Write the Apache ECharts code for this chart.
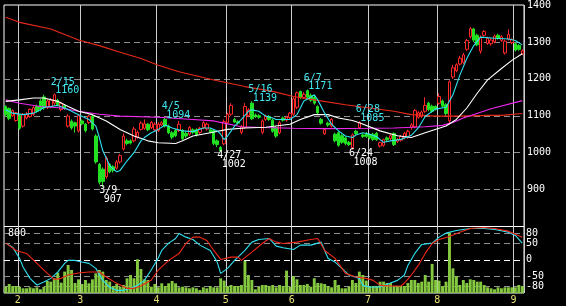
<!DOCTYPE html>
<html><head><meta charset="utf-8">
<script src="https://cdn.jsdelivr.net/npm/echarts@6/dist/echarts.min.js"></script>
<style>html,body{margin:0;padding:0;background:#000;}#c{width:566px;height:306px;}</style>
</head><body><div id="c"></div>
<script>
const dates = ['1/26','1/27','1/28','1/29',
'2/1','2/2','2/3','2/4','2/5','2/8','2/9','2/10','2/11','2/12','2/15','2/16','2/17','2/18','2/19','2/22','2/23','2/24',
'3/1','3/2','3/3','3/4','3/7','3/8','3/9','3/10','3/11','3/14','3/15','3/16','3/17','3/18','3/22','3/23','3/24','3/25','3/28','3/29','3/30','3/31',
'4/1','4/4','4/5','4/6','4/7','4/8','4/11','4/12','4/13','4/14','4/15','4/18','4/19','4/20','4/21','4/22','4/25','4/26','4/27','4/28',
'5/2','5/6','5/9','5/10','5/11','5/12','5/13','5/16','5/17','5/18','5/19','5/20','5/23','5/24','5/25','5/26','5/27','5/30','5/31',
'6/1','6/2','6/3','6/6','6/7','6/8','6/9','6/10','6/13','6/14','6/15','6/16','6/17','6/20','6/21','6/22','6/23','6/24','6/27','6/28','6/29','6/30',
'7/1','7/4','7/5','7/6','7/7','7/8','7/11','7/12','7/13','7/14','7/15','7/19','7/20','7/21','7/22','7/25','7/26','7/27','7/28','7/29',
'8/1','8/2','8/3','8/4','8/5','8/8','8/9','8/10','8/12','8/15','8/16','8/17','8/18','8/19','8/22','8/23','8/24','8/25','8/26','8/29','8/30','8/31',
'9/1','9/2','9/5'];

// [open, close, low, high]
const ohlc = [
[1125,1103,1098,1128],[1120,1093,1088,1122],[1100,1114,1097,1117],[1087,1108,1084,1110],[1100,1066,1062,1104],
[1072,1104,1068,1107],[1094,1104,1090,1110],[1098,1117,1095,1120],[1104,1122,1100,1126],[1125,1112,1108,1130],
[1140,1118,1112,1145],[1151,1121,1116,1157],[1122,1140,1118,1145],[1125,1143,1120,1148],[1134,1157,1128,1160],
[1142,1130,1126,1146],[1117,1134,1112,1138],[1127,1120,1116,1130],[1072,1099,1068,1104],[1085,1067,1062,1090],
[1081,1072,1054,1084],[1059,1100,1055,1104],[1086,1078,1074,1090],[1077,1060,1055,1080],[1082,1099,1078,1102],
[1099,1064,1060,1102],[1045,975,970,1050],[968,920,914,972],[955,922,907,960],[935,985,930,990],
[968,948,944,972],[962,952,946,966],[958,975,954,980],[975,992,970,996],[1010,1045,1006,1052],
[1032,1025,1020,1038],[1032,1026,1022,1036],[1032,1064,1028,1070],[1042,1055,1038,1060],[1063,1080,1060,1085],
[1066,1078,1062,1090],[1077,1062,1058,1080],[1068,1082,1064,1086],[1062,1077,1058,1082],[1060,1077,1056,1082],
[1075,1081,1072,1085],[1090,1072,1068,1094],[1072,1054,1050,1076],[1054,1042,1036,1058],[1060,1046,1042,1064],
[1060,1077,1056,1086],[1060,1038,1034,1064],[1052,1045,1040,1058],[1050,1068,1046,1072],[1062,1055,1050,1066],
[1062,1048,1044,1066],[1055,1066,1050,1070],[1068,1081,1064,1085],[1064,1077,1060,1082],[1062,1055,1052,1066],
[1060,1025,1020,1064],[1032,1022,1015,1036],[1014,1005,1002,1018],[1024,1084,1020,1090],[1081,1104,1078,1108],
[1104,1128,1100,1134],[1090,1083,1080,1094],[1084,1080,1076,1088],[1055,1070,1050,1075],[1068,1125,1064,1134],
[1100,1116,1096,1120],[1134,1092,1088,1139],[1102,1099,1094,1106],[1100,1096,1092,1104],[1055,1086,1050,1090],
[1090,1099,1086,1103],[1098,1090,1086,1102],[1088,1058,1054,1092],[1068,1045,1040,1072],[1054,1081,1050,1086],
[1094,1088,1084,1098],[1088,1096,1084,1100],[1095,1107,1092,1110],[1104,1146,1100,1150],[1123,1162,1118,1166],
[1166,1150,1145,1168],[1150,1158,1146,1164],[1168,1150,1146,1171],[1155,1142,1138,1160],[1150,1134,1130,1154],
[1125,1108,1104,1128],[1090,1080,1076,1094],[1051,1063,1048,1067],[1080,1075,1070,1084],[1072,1090,1068,1094],
[1050,1032,1028,1054],[1054,1020,1016,1058],[1046,1028,1024,1050],[1040,1025,1020,1044],[1028,1022,1018,1032],
[1014,1048,1008,1052],[1058,1052,1048,1062],[1068,1082,1064,1085],[1048,1044,1040,1052],[1052,1044,1040,1056],
[1048,1040,1036,1052],[1050,1036,1032,1054],[1052,1035,1032,1056],[1018,1027,1014,1030],[1020,1035,1016,1038],
[1040,1035,1030,1044],[1038,1046,1034,1050],[1052,1022,1018,1055],[1030,1036,1026,1040],[1034,1044,1030,1048],
[1040,1052,1036,1056],[1042,1058,1038,1062],[1068,1075,1062,1080],[1070,1114,1066,1118],[1096,1108,1092,1112],
[1098,1110,1094,1114],[1112,1128,1108,1150],[1134,1117,1112,1138],[1126,1112,1108,1130],[1125,1118,1114,1128],
[1134,1152,1130,1161],[1140,1126,1122,1144],[1130,1106,1100,1134],[1086,1192,1076,1196],[1205,1230,1200,1238],
[1222,1238,1218,1242],[1240,1256,1236,1262],[1245,1265,1240,1270],[1280,1304,1276,1308],[1314,1336,1310,1340],
[1335,1305,1300,1338],[1318,1292,1288,1322],[1275,1313,1268,1318],[1318,1328,1314,1332],[1296,1310,1292,1314],
[1295,1305,1290,1310],[1300,1316,1296,1320],[1318,1310,1306,1322],[1304,1314,1300,1318],[1270,1302,1266,1306],
[1308,1320,1304,1334],[1298,1306,1294,1310],[1295,1278,1274,1298],[1290,1280,1276,1294],[1268,1276,1264,1280]];

const volume = [84,121,94,94,84,63,63,76,63,76, 50,84,161,152,197,272,138,286,375,308,
134,183,121,174,130,183,264,308,286,174, 152,94,121,84,107,197,241,197,451,321,
183,174,84,121,76,130,94,130,161,130, 76,84,76,63,76,63,40,76,63,94,
76,76,197,166,94,107,94,94,107,429, 241,174,50,84,107,107,94,107,76,107,
94,299,84,228,183,107,107,121,84,197, 134,130,121,94,76,174,107,63,63,84,
174,134,286,241,166,94,94,94,152,152, 134,134,94,94,94,94,134,174,174,134,
152,241,152,389,174,166,94,152,808,330, 228,107,174,134,183,174,152,152,107,76,
63,50,76,63,76,76,76,76,107,94];

// moving averages read at [day index, value]
const maShort = [[0,1116],[2,1107],[5,1103],[8,1107],[10,1116],[11,1123],[13,1125],[15,1128],[17,1121],[19,1112],[21,1103],[24,1090],[26,1072],[27,1041],[28,1005],[30,965],[31,956],[32,948],[33,952],[35,978],[37,1000],[39,1032],[40,1041],[42,1054],[44,1063],[46,1075],[48,1067],[51,1059],[54,1057],[57,1067],[59,1067],[61,1059],[62,1050],[63,1035],[64,1045],[66,1072],[68,1090],[70,1112],[71,1116],[73,1112],[75,1099],[77,1094],[78,1090],[80,1090],[82,1090],[84,1103],[85,1121],[86,1140],[88,1150],[89,1157],[90,1143],[92,1107],[94,1077],[96,1059],[98,1045],[100,1041],[101,1048],[103,1054],[105,1050],[107,1043],[109,1028],[111,1032],[114,1036],[117,1047],[119,1067],[121,1098],[123,1112],[124,1118],[127,1123],[129,1157],[131,1210],[133,1255],[135,1290],[137,1313],[141,1310],[145,1308],[147,1304],[149,1292]];
const maMid = [[0,1139],[4,1143],[8,1148],[11,1148],[15,1139],[18,1125],[21,1112],[25,1103],[29,1086],[33,1063],[37,1045],[41,1032],[44,1027],[49,1025],[51,1032],[54,1045],[59,1054],[64,1063],[69,1067],[75,1069],[82,1077],[85,1090],[89,1103],[93,1103],[96,1094],[100,1087],[102,1081],[108,1059],[113,1046],[117,1041],[121,1054],[127,1072],[130,1090],[133,1121],[136,1161],[139,1197],[143,1228],[146,1250],[149,1268]];
const maLong = [[0,1143],[4,1134],[10,1125],[16,1121],[21,1112],[27,1104],[33,1099],[44,1096],[54,1090],[60,1086],[63,1080],[68,1070],[74,1068],[83,1066],[93,1065],[105,1066],[112,1067],[121,1070],[126,1074],[129,1082],[132,1094],[140,1119],[149,1141]];
const maVeryLong = [[0,1367],[4,1353],[13,1335],[21,1305],[27,1290],[33,1272],[39,1255],[44,1237],[50,1219],[60,1197],[69,1179],[77,1166],[83,1152],[89,1143],[98,1130],[105,1121],[112,1112],[117,1103],[124,1099],[131,1099],[139,1101],[143,1101],[149,1106]];

const rciShort = [[0,50],[2,38],[4,4],[5,-22],[7,-56],[9,-76],[11,-67],[13,-56],[15,-37],[17,-11],[18,-2],[20,-2],[22,-7],[24,-11],[26,-26],[28,-62],[30,-83],[32,-92],[34,-92],[36,-86],[38,-77],[40,-62],[42,-30],[44,5],[45,28],[47,50],[49,64],[50,79],[52,68],[54,61],[56,44],[59,28],[61,-7],[62,-41],[64,-26],[66,-2],[67,8],[69,28],[71,53],[73,61],[76,64],[78,41],[80,36],[83,31],[85,44],[88,44],[91,53],[92,28],[93,4],[95,-7],[97,-26],[99,-46],[102,-56],[103,-77],[105,-82],[108,-82],[111,-70],[113,-62],[115,-46],[116,-17],[118,19],[120,46],[123,50],[125,68],[127,80],[130,88],[134,94],[138,94],[141,91],[145,83],[147,73],[149,50]];
const rciLong = [[0,50],[3,28],[6,19],[9,-11],[12,-41],[14,-59],[16,-56],[18,-46],[21,-40],[24,-37],[27,-37],[29,-52],[32,-71],[35,-86],[37,-86],[39,-79],[42,-61],[44,-31],[47,-2],[50,19],[52,49],[54,68],[56,68],[58,58],[60,28],[62,1],[65,8],[67,8],[68,-2],[71,23],[74,49],[76,64],[78,53],[80,49],[84,53],[88,61],[90,64],[92,28],[95,4],[98,-41],[101,-52],[104,-56],[106,-62],[108,-77],[111,-79],[114,-79],[115,-70],[117,-46],[119,-17],[121,19],[123,49],[125,61],[128,70],[131,83],[134,94],[138,97],[141,94],[145,86],[149,68]];

const priceTicks = [900,1000,1100,1200,1300,1400];
const rciTicks = [80,50,0,-50,-80];
const volumeTicks = [800];

const annotations = [
  {d:'2/15', v:1160, hi:true}, {d:'3/9', v:907, hi:false}, {d:'4/5', v:1094, hi:true},
  {d:'4/27', v:1002, hi:false}, {d:'5/16', v:1139, hi:true}, {d:'6/7', v:1171, hi:true},
  {d:'6/24', v:1008, hi:false}, {d:'6/28', v:1085, hi:true}
];

const FONT = 'DejaVu Sans Mono';
const month = s => s.split('/')[0];
const monthStart = (idx, val) => idx > 0 && month(val) !== month(dates[idx - 1]);
const GRID_V = '#cccccc';
const DASH = '#8e8e8e';

const priceSplitColors = [];
for (let v = 800; v <= 1400; v += 100) priceSplitColors.push(v > 800 && v < 1400 ? DASH : 'rgba(0,0,0,0)');
const rciSplitColors = [];
for (let v = -100; v <= 100; v += 10) rciSplitColors.push(v === 0 ? '#ffffff' : (rciTicks.includes(v) ? DASH : 'rgba(0,0,0,0)'));

const markData = [];
annotations.forEach(a => {
  const col = a.hi ? '#40e6f0' : '#ffffff';
  const base = {fontFamily: FONT, fontSize: 10, color: col, align: 'left', verticalAlign: 'middle'};
  markData.push({coord: [a.d, a.v], label: Object.assign({show: true, formatter: a.d, position: [-3, a.hi ? -11 : 4]}, base)});
  markData.push({coord: [a.d, a.v], label: Object.assign({show: true, formatter: String(a.v), position: [1.5, a.hi ? -2.5 : 13]}, base)});
});

const lineSeries = (data, color, xi, yi) => ({
  type: 'line', data: data, xAxisIndex: xi, yAxisIndex: yi, showSymbol: false, symbol: 'none',
  lineStyle: {color: color, width: 1.1}, silent: true, animation: false
});

const chart = echarts.init(document.getElementById('c'));
chart.setOption({
  backgroundColor: '#000',
  animation: false,
  grid: [
    {left: 4, top: 2.5, width: 520, height: 224, show: true, borderColor: '#ffffff', borderWidth: 1, backgroundColor: 'rgba(0,0,0,0)'},
    {left: 4, top: 226.5, width: 520, height: 66.5, show: true, borderColor: '#ffffff', borderWidth: 1, backgroundColor: 'rgba(0,0,0,0)'}
  ],
  xAxis: [
    {type: 'category', gridIndex: 0, data: dates, boundaryGap: true,
     axisLine: {show: false}, axisTick: {show: false}, axisLabel: {show: false},
     splitLine: {show: true, interval: monthStart, lineStyle: {color: GRID_V, width: 1}}},
    {type: 'category', gridIndex: 1, data: dates, boundaryGap: true,
     axisLine: {show: false}, axisTick: {show: false},
     axisLabel: {show: true, interval: monthStart, formatter: v => month(v), color: '#e6e070',
       fontFamily: FONT, fontSize: 10, margin: 2, padding: [0, 3.5, 0, 0]},
     splitLine: {show: true, interval: monthStart, lineStyle: {color: GRID_V, width: 1}}}
  ],
  yAxis: [
    {type: 'value', gridIndex: 0, position: 'right', min: 800, max: 1400, interval: 100,
     axisLine: {show: false}, axisTick: {show: false},
     axisLabel: {color: '#ffffff', fontFamily: FONT, fontSize: 10, margin: 3, padding: [3, 0, 0, 0],
       formatter: v => priceTicks.includes(v) ? String(v) : ''},
     splitLine: {show: true, lineStyle: {type: [6, 4], color: priceSplitColors, width: 1}}},
    {type: 'value', gridIndex: 1, position: 'right', min: -100, max: 100, interval: 10,
     axisLine: {show: false}, axisTick: {show: false},
     axisLabel: {color: '#ffffff', fontFamily: FONT, fontSize: 10, margin: 2,
       formatter: v => rciTicks.includes(v) ? String(v) : ''},
     splitLine: {show: true, lineStyle: {type: [6, 4], color: rciSplitColors, width: 1}}},
    {type: 'value', gridIndex: 1, position: 'left', min: 0, max: 890, interval: 800,
     axisLine: {show: false}, axisTick: {show: false}, splitLine: {show: false},
     axisLabel: {inside: true, color: '#ffffff', fontFamily: FONT, fontSize: 10, margin: 4,
       formatter: v => volumeTicks.includes(v) ? String(v) : ''}}
  ],
  series: [
    {type: 'bar', data: volume, xAxisIndex: 1, yAxisIndex: 2, barWidth: '84%',
     itemStyle: {color: '#84c840'}, silent: true},
    lineSeries(rciShort, '#30e0f0', 1, 1),
    lineSeries(rciLong, '#f02818', 1, 1),
    {type: 'candlestick', data: ohlc, xAxisIndex: 0, yAxisIndex: 0, barWidth: 3,
     itemStyle: {color: '#000000', color0: '#22e022', borderColor: '#ff2828', borderColor0: '#22e022', borderWidth: 1},
     markPoint: {symbol: 'rect', symbolSize: 1, itemStyle: {color: 'rgba(0,0,0,0)'}, silent: true, animation: false, data: markData}},
    lineSeries(maVeryLong, '#e82a18', 0, 0),
    lineSeries(maLong, '#f028f0', 0, 0),
    lineSeries(maMid, '#ffffff', 0, 0),
    lineSeries(maShort, '#30e0f0', 0, 0)
  ]
});
</script></body></html>
